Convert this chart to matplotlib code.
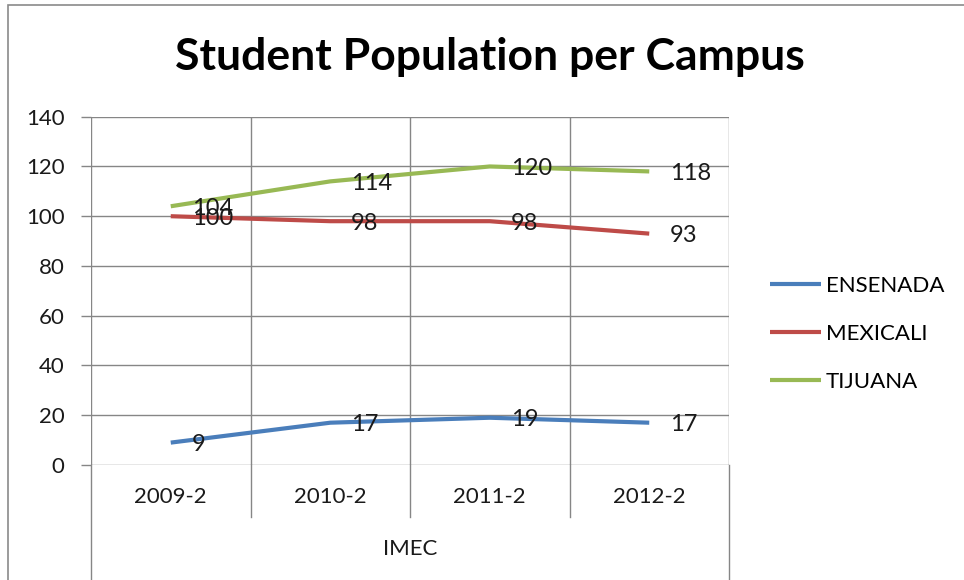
import matplotlib
matplotlib.use("Agg")
import matplotlib.pyplot as plt
from matplotlib.lines import Line2D
from matplotlib.patches import Rectangle
import matplotlib.transforms as mtransforms

plt.rcParams['font.family'] = ['Lato', 'DejaVu Sans']

# Data
periods = ["2009-2", "2010-2", "2011-2", "2012-2"]
group_label = "IMEC"
ensenada = [9, 17, 19, 17]
mexicali = [100, 98, 98, 93]
tijuana = [104, 114, 120, 118]
series_names = ["ENSENADA", "MEXICALI", "TIJUANA"]
series_colors = ["#4A7EBB", "#BE4B48", "#98B954"]
yticks = [0, 20, 40, 60, 80, 100, 120, 140]

W, H = 964, 580
fig = plt.figure(figsize=(W / 100, H / 100), dpi=100)

# chart frame
fig.patches.append(Rectangle((8 / W, -0.02), 1.0, 1 - 5 / H + 0.02,
                             transform=fig.transFigure, fill=False,
                             edgecolor="#8a8a8a", linewidth=1.2))

ax = fig.add_axes([91 / W, 1 - 465 / H, (729 - 91) / W, 348.3 / H])
ax.set_xlim(0, len(periods))
ax.set_ylim(0, 140)

# gridlines
for y in yticks:
    ax.axhline(y, color="#868686", linewidth=1.0, zorder=1)
for i in range(len(periods) + 1):
    ax.axvline(i, color="#868686", linewidth=1.0, zorder=1)

# category separators extending below the axis
trans = mtransforms.blended_transform_factory(ax.transData, ax.transAxes)
for i in range(len(periods) + 1):
    bottom = -0.36 if i in (0, len(periods)) else -0.149
    ax.add_line(Line2D([i, i], [0, bottom], transform=trans, color="#868686",
                       linewidth=1.0, clip_on=False))

for s in ax.spines.values():
    s.set_visible(False)

xs = [i + 0.5 for i in range(len(periods))]
handles = []
for name, vals, col in zip(series_names, [ensenada, mexicali, tijuana], series_colors):
    ln, = ax.plot(xs, vals, color=col, linewidth=3.0, label=name, zorder=3,
                  solid_capstyle="butt", solid_joinstyle="round")
    handles.append(ln)
    for x, v in zip(xs, vals):
        ax.annotate(str(v), (x, v), xytext=(15, -1.5), textcoords="offset points",
                    ha="left", va="center", fontsize=17, color="#1a1a1a", zorder=4)

ax.set_yticks(yticks)
ax.set_yticklabels([str(t) for t in yticks], fontsize=16, color="#1a1a1a")
ax.tick_params(axis="y", length=7, width=1.0, color="#868686", pad=12)
ax.set_xticks(xs)
ax.set_xticklabels(periods, fontsize=16, color="#1a1a1a")
ax.tick_params(axis="x", length=0, pad=16)

ax.text(0.5, -0.242, group_label, transform=ax.transAxes, ha="center", va="center",
        fontsize=16, color="#1a1a1a")

fig.text(490 / W, 1 - 57 / H, "Student Population per Campus", ha="center",
         va="center", fontsize=32, fontweight="bold", color="#000000")

fig.legend(handles=handles, labels=series_names, loc="center left",
           bbox_to_anchor=(770 / W, 1 - 334 / H), frameon=False, fontsize=16,
           handlelength=2.3, handletextpad=0.2, labelspacing=1.25,
           borderpad=0, borderaxespad=0)

fig.savefig("out.png", dpi=100)
